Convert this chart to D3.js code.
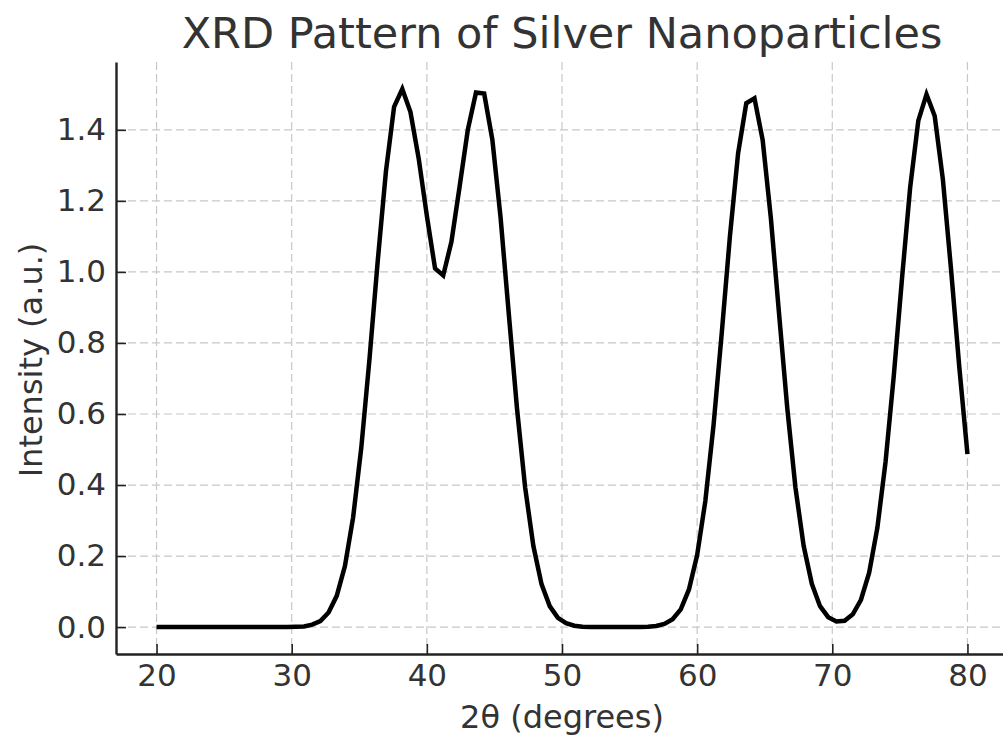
<!DOCTYPE html>
<meta charset="utf-8">
<script src="https://cdn.jsdelivr.net/npm/d3@7"></script>
<style>
body { margin: 0; background: #fff; }
text { font-family: "DejaVu Sans", sans-serif; fill: #333; }
.grid line { stroke: #c8c8c8; stroke-width: 1.2; stroke-dasharray: 8,4; }
</style>
<svg width="1003" height="740"></svg>
<script>

// 2theta sample positions (degrees)
var twoTheta = [
  20.000, 20.606, 21.212, 21.818, 22.424, 23.030, 23.636, 24.242, 24.848, 25.455,
  26.061, 26.667, 27.273, 27.879, 28.485, 29.091, 29.697, 30.303, 30.909, 31.515,
  32.121, 32.727, 33.333, 33.939, 34.545, 35.152, 35.758, 36.364, 36.970, 37.576,
  38.182, 38.788, 39.394, 40.000, 40.606, 41.212, 41.818, 42.424, 43.030, 43.636,
  44.242, 44.848, 45.455, 46.061, 46.667, 47.273, 47.879, 48.485, 49.091, 49.697,
  50.303, 50.909, 51.515, 52.121, 52.727, 53.333, 53.939, 54.545, 55.152, 55.758,
  56.364, 56.970, 57.576, 58.182, 58.788, 59.394, 60.000, 60.606, 61.212, 61.818,
  62.424, 63.030, 63.636, 64.242, 64.848, 65.455, 66.061, 66.667, 67.273, 67.879,
  68.485, 69.091, 69.697, 70.303, 70.909, 71.515, 72.121, 72.727, 73.333, 73.939,
  74.545, 75.152, 75.758, 76.364, 76.970, 77.576, 78.182, 78.788, 79.394, 80.000
];

// intensity (a.u.)
var intensity = [
  0.000, 0.000, 0.000, 0.000, 0.000, 0.000, 0.000, 0.000, 0.000, 0.000,
  0.000, 0.000, 0.000, 0.000, 0.000, 0.000, 0.000, 0.001, 0.002, 0.007,
  0.017, 0.041, 0.088, 0.172, 0.309, 0.506, 0.756, 1.030, 1.282, 1.465,
  1.515, 1.450, 1.320, 1.158, 1.010, 0.990, 1.085, 1.240, 1.400, 1.505,
  1.502, 1.372, 1.153, 0.883, 0.617, 0.393, 0.229, 0.121, 0.059, 0.026,
  0.011, 0.004, 0.001, 0.000, 0.000, 0.000, 0.000, 0.000, 0.000, 0.000,
  0.001, 0.003, 0.009, 0.022, 0.050, 0.106, 0.203, 0.355, 0.568, 0.827,
  1.100, 1.334, 1.475, 1.489, 1.371, 1.151, 0.882, 0.617, 0.393, 0.229,
  0.122, 0.059, 0.028, 0.016, 0.018, 0.036, 0.077, 0.153, 0.279, 0.465,
  0.706, 0.979, 1.237, 1.426, 1.500, 1.439, 1.260, 1.006, 0.733, 0.487
];

var xTicks = [20, 30, 40, 50, 60, 70, 80];
var yTicks = [0.0, 0.2, 0.4, 0.6, 0.8, 1.0, 1.2, 1.4];

var svg = d3.select("svg");
var margin = {left: 116, right: 1008, top: 62, bottom: 654};

var x = d3.scaleLinear().domain([17, 83]).range([margin.left, margin.right]);
var y = d3.scaleLinear().domain([-0.0757, 1.591]).range([margin.bottom, margin.top]);

// grid
svg.append("g").attr("class", "grid")
    .selectAll("line").data(xTicks).enter().append("line")
    .attr("x1", function(d) { return x(d); })
    .attr("x2", function(d) { return x(d); })
    .attr("y1", margin.top)
    .attr("y2", margin.bottom);

svg.append("g").attr("class", "grid")
    .selectAll("line").data(yTicks).enter().append("line")
    .attr("x1", margin.left)
    .attr("x2", margin.right)
    .attr("y1", function(d) { return y(d); })
    .attr("y2", function(d) { return y(d); });

// axes, ticks pointing inward
var xAxis = svg.append("g")
    .attr("transform", "translate(0," + margin.bottom + ")")
    .call(d3.axisBottom(x).tickValues(xTicks).tickSizeInner(-10).tickSizeOuter(0).tickPadding(10));

var yAxis = svg.append("g")
    .attr("transform", "translate(" + margin.left + ",0)")
    .call(d3.axisLeft(y).tickValues(yTicks).tickFormat(d3.format(".1f")).tickSizeInner(-10).tickSizeOuter(0).tickPadding(10));

[xAxis, yAxis].forEach(function(a) {
    a.select(".domain").attr("stroke", "#222").attr("stroke-width", 2.4);
    a.selectAll(".tick line").attr("stroke", "#222").attr("stroke-width", 1.6);
    a.selectAll(".tick text")
        .attr("font-family", "DejaVu Sans")
        .attr("font-size", 31)
        .attr("fill", "#333");
});

// pattern line
var line = d3.line()
    .x(function(d, i) { return x(twoTheta[i]); })
    .y(function(d) { return y(d); });

svg.append("path")
    .datum(intensity)
    .attr("d", line)
    .attr("fill", "none")
    .attr("stroke", "#000")
    .attr("stroke-width", 4.5)
    .attr("stroke-linejoin", "miter");

// labels
svg.append("text")
    .attr("x", 562)
    .attr("y", 48)
    .attr("text-anchor", "middle")
    .attr("font-size", 43)
    .text("XRD Pattern of Silver Nanoparticles");

svg.append("text")
    .attr("x", 562)
    .attr("y", 728)
    .attr("text-anchor", "middle")
    .attr("font-size", 32)
    .text("2θ (degrees)");

svg.append("text")
    .attr("transform", "translate(42,360) rotate(-90)")
    .attr("text-anchor", "middle")
    .attr("font-size", 32)
    .text("Intensity (a.u.)");

</script>
